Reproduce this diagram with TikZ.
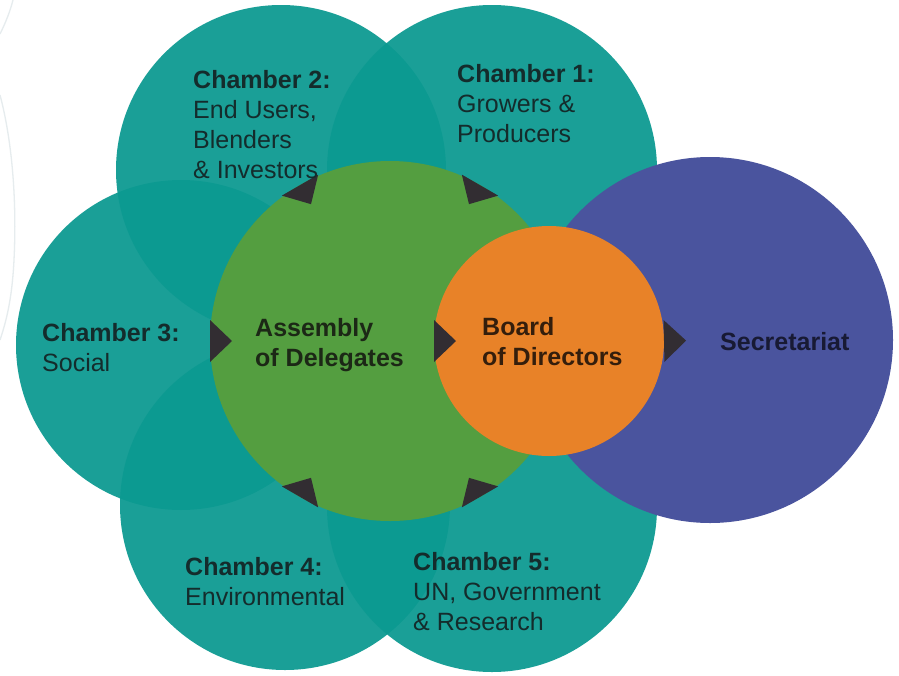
\documentclass[tikz,border=0pt]{standalone}
\usepackage{fontspec}
\setmainfont{Liberation Sans}
\usetikzlibrary{calc}
\definecolor{tealc}{RGB}{12,154,145}
\definecolor{greenc}{RGB}{84,158,64}
\definecolor{orangec}{RGB}{232,130,40}
\definecolor{bluec}{RGB}{74,84,158}
\definecolor{tridark}{RGB}{50,45,50}
\definecolor{txtteal}{RGB}{20,44,44}
\definecolor{txtgreen}{RGB}{28,40,22}
\definecolor{txtorange}{RGB}{52,30,12}
\definecolor{txtblue}{RGB}{24,26,52}
\definecolor{decor}{RGB}{230,236,238}
\begin{document}
\begin{tikzpicture}[x=1pt,y=-1pt,
  chamber/.style={circle, inner sep=0pt, outer sep=0pt, minimum size=330pt, fill=tealc, fill opacity=0.94},
  disc/.style={circle, inner sep=0pt, outer sep=0pt},
  lbl/.style={anchor=base west, align=left, inner sep=0pt, font=\fontsize{25pt}{30pt}\selectfont},
  tri/.style={fill=tridark}]
\useasboundingbox[fill=white] (0,0) rectangle (899,675);
% faint decorative arcs at the left edge
\draw[decor, line width=1.3pt] (13,0) .. controls (10,12) and (5,24) .. (0,34);
\draw[decor, line width=1.3pt] (0,95) .. controls (12,140) and (17,200) .. (14,260) .. controls (12,300) and (6,322) .. (0,340);
% chambers
\node[chamber] (c3) at (181,345) {};
\node[chamber] (c2) at (281,170) {};
\node[chamber] (c1) at (492,170) {};
\node[chamber] (c4) at (285,505) {};
\node[chamber] (c5) at (492,507) {};
% secretariat, assembly, board
\node[disc, fill=bluec, minimum size=366pt] (sec) at (710,340) {};
\node[disc, fill=greenc, minimum size=360pt] (asm) at (390,341) {};
\node[disc, fill=orangec, minimum size=230pt] (board) at (549,341) {};
% arrow triangles into the assembly
\foreach \a in {60,120,180,240,300}{
  \fill[tri] ($(asm.\a)!21pt!90:(asm.center)$) -- ($(asm.\a)!21pt!-90:(asm.center)$) -- ($(asm.\a)!22pt!(asm.center)$) -- cycle;
}
% assembly -> board
\fill[tri] ($(board.west)!21pt!90:(board.center)$) -- ($(board.west)!21pt!-90:(board.center)$) -- ($(board.west)!22pt!(board.center)$) -- cycle;
% board -> secretariat
\fill[tri] ($(board.east)!21pt!90:(sec.center)$) -- ($(board.east)!21pt!-90:(sec.center)$) -- ($(board.east)!22pt!(sec.center)$) -- cycle;
% labels (anchored at the baseline of their last line)
\node[lbl, text=txtteal] (l2) at (193,178) {\textbf{Chamber 2:}\\End Users,\\Blenders\\\& Investors};
\node[lbl, text=txtteal] (l1) at (457,142) {\textbf{Chamber 1:}\\Growers \&\\Producers};
\node[lbl, text=txtteal] (l3) at (42,371) {\textbf{Chamber 3:}\\Social};
\node[lbl, text=txtteal] (l4) at (185,605) {\textbf{Chamber 4:}\\Environmental};
\node[lbl, text=txtteal] (l5) at (413,630) {\textbf{Chamber 5:}\\UN, Government\\\& Research};
\node[lbl, text=txtgreen, font=\fontsize{25pt}{30pt}\selectfont\bfseries] (la) at (255,366) {Assembly\\of Delegates};
\node[lbl, text=txtorange, font=\fontsize{25pt}{30pt}\selectfont\bfseries] (lb) at (482,365) {Board\\of Directors};
\node[lbl, text=txtblue, font=\fontsize{25pt}{30pt}\selectfont\bfseries] (ls) at (720,350) {Secretariat};
\end{tikzpicture}
\end{document}
